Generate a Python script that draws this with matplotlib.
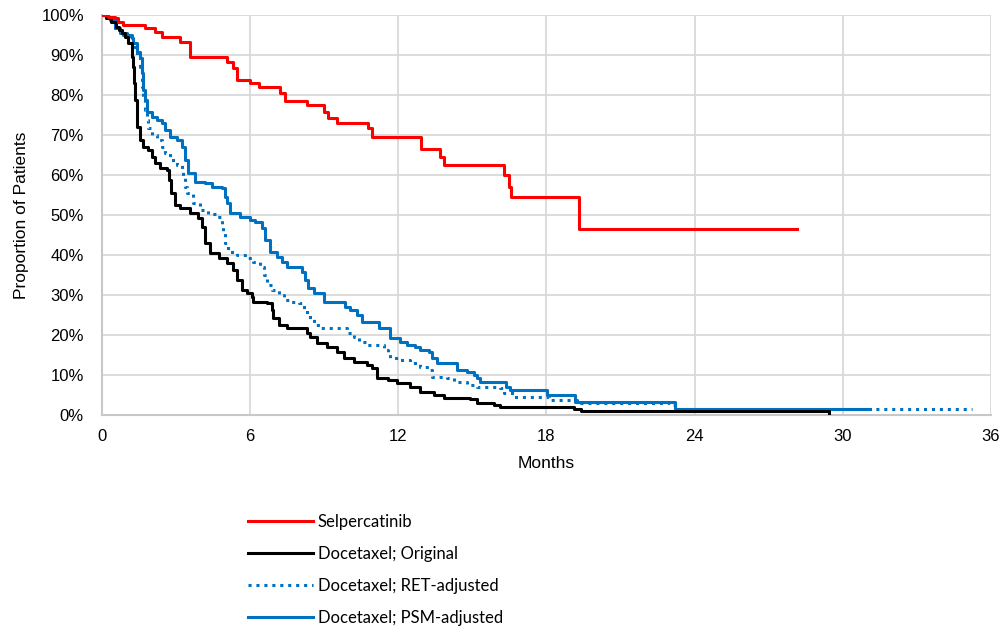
import matplotlib
matplotlib.use("Agg")
import matplotlib.pyplot as plt
from matplotlib.ticker import FuncFormatter

# ---- data (months, % of patients) ----
selp_t = [0, 0.05, 0.26, 0.53, 0.66, 0.86, 1.74, 2.15, 2.42, 3.16, 3.57, 5.05, 5.32, 5.46,
          6.0, 6.34, 7.22, 7.42, 8.3, 8.97, 9.16, 9.51, 10.79, 10.93, 12.92, 13.7, 13.86,
          16.27, 16.47, 16.57, 19.31, 28.13]
selp_s = [100, 100, 99.6, 99.2, 98.3, 97.5, 96.7, 95.8, 94.6, 93.3, 89.6, 88.3, 86.7, 83.75,
          82.9, 81.9, 80.4, 78.6, 77.5, 75.8, 74.2, 72.9, 71.7, 69.6, 66.4, 64.6, 62.5,
          60.0, 57.1, 54.4, 46.4, 46.4]

orig_t = [0, 0.15, 0.35, 0.55, 0.7, 0.8, 0.93, 1.07, 1.2, 1.27, 1.31, 1.34, 1.4, 1.54, 1.68,
          1.88, 2.01, 2.15, 2.35, 2.62, 2.72, 2.78, 2.96, 3.16, 3.57, 3.9, 4.04, 4.17, 4.38,
          4.72, 5.05, 5.32, 5.46, 5.66, 5.87, 6.07, 6.13, 6.67, 6.88, 6.94, 7.15, 7.48, 8.3,
          8.43, 8.7, 9.11, 9.51, 9.78, 10.19, 10.73, 10.93, 11.13, 11.6, 11.95, 12.48, 12.89,
          13.43, 13.83, 14.92, 15.19, 15.86, 16.13, 19.1, 19.4, 29.45]
orig_s = [100, 99.2, 98.3, 97.1, 96.2, 95.4, 94.6, 92.9, 89.6, 87.1, 82.9, 78.75, 72.1, 68.75,
          67.1, 66.25, 64.6, 62.9, 61.7, 61.25, 58.75, 55.4, 52.5, 51.7, 50.4, 49.2, 47.1, 42.9,
          40.4, 39.2, 37.9, 36.25, 33.75, 31.25, 30.4, 29.6, 28.3, 27.9, 26.25, 24.2, 22.5,
          21.7, 20.4, 19.6, 17.9, 17.1, 15.8, 14.2, 13.3, 12.5, 11.7, 9.2, 8.75, 7.9, 7.1, 5.8,
          5.0, 4.2, 3.9, 3.1, 2.5, 2.1, 1.6, 1.1, 0]

ret_t = [0, 0.15, 0.32, 0.53, 0.73, 0.86, 1.13, 1.27, 1.4, 1.54, 1.61, 1.68, 1.74, 1.81, 1.88,
         2.01, 2.22, 2.42, 2.55, 2.76, 3.03, 3.23, 3.3, 3.36, 3.43, 3.7, 3.97, 4.31, 4.65,
         4.85, 4.92, 4.99, 5.12, 5.46, 5.8, 6.13, 6.4, 6.54, 6.67, 6.88, 7.15, 7.35, 7.62,
         7.96, 8.16, 8.3, 8.57, 8.84, 9.92, 10.19, 10.39, 10.73, 11.4, 11.6, 11.67, 12.08,
         12.48, 12.89, 13.23, 13.36, 13.97, 14.24, 14.78, 15.19, 16.13, 16.27, 16.67, 18.09,
         19.24, 23.0, 23.2, 35.25]
ret_s = [100, 99.4, 98.75, 96.7, 95.8, 95.0, 94.2, 92.1, 89.6, 87.1, 82.1, 78.75, 76.25, 73.75,
         71.7, 70.0, 68.75, 67.1, 65.4, 63.75, 62.5, 61.25, 59.6, 57.1, 55.4, 52.9, 51.25, 50.2,
         49.4, 47.5, 45.4, 42.9, 40.8, 40.0, 39.2, 38.3, 37.1, 35.0, 32.5, 31.25, 30.0, 28.75,
         28.3, 27.9, 26.25, 24.4, 22.5, 21.7, 20.4, 19.6, 18.3, 17.5, 16.25, 15.4, 14.2, 13.75,
         12.9, 12.1, 11.25, 9.6, 9.2, 8.3, 7.5, 7.1, 6.7, 5.4, 4.6, 3.75, 2.9, 2.5, 1.4, 1.4]

psm_t = [0, 0.15, 0.32, 0.53, 0.73, 1.0, 1.2, 1.27, 1.4, 1.54, 1.61, 1.68, 1.74, 1.84, 2.01,
         2.22, 2.42, 2.55, 2.76, 3.03, 3.23, 3.36, 3.5, 3.77, 4.17, 4.45, 4.85, 4.99, 5.05,
         5.19, 5.59, 6.0, 6.2, 6.47, 6.61, 6.81, 7.08, 7.28, 7.48, 8.09, 8.23, 8.36, 8.57,
         8.97, 9.85, 10.05, 10.32, 10.53, 11.2, 11.67, 12.08, 12.35, 12.69, 12.89, 13.23,
         13.36, 13.57, 14.38, 14.78, 15.05, 15.19, 15.32, 16.34, 16.54, 18.02, 19.17, 23.2, 31.1]
psm_s = [100, 99.4, 98.75, 96.7, 95.4, 95.0, 94.2, 92.9, 90.8, 89.2, 85.4, 81.25, 78.75, 75.8,
         74.6, 73.75, 72.9, 71.25, 69.6, 68.75, 67.1, 63.75, 60.4, 58.3, 57.9, 57.1, 56.7, 54.6,
         52.9, 50.4, 49.6, 48.75, 48.3, 46.7, 43.75, 40.8, 39.6, 38.3, 37.1, 35.8, 33.75, 31.7,
         30.4, 28.3, 27.1, 26.25, 25.0, 23.3, 21.7, 19.2, 18.3, 17.5, 17.1, 16.25, 15.8, 14.2,
         12.9, 11.25, 10.8, 10.0, 9.2, 8.3, 7.1, 6.25, 5.0, 3.3, 1.4, 1.4]

series_labels = ["Selpercatinib", "Docetaxel; Original", "Docetaxel; RET-adjusted",
                 "Docetaxel; PSM-adjusted"]
x_ticks = [0, 6, 12, 18, 24, 30, 36]
y_ticks = [0, 10, 20, 30, 40, 50, 60, 70, 80, 90, 100]

# ---- figure ----
plt.rcParams['font.family'] = ['Liberation Sans', 'DejaVu Sans']
fig = plt.figure(figsize=(10.04, 6.31), dpi=100)
ax = fig.add_axes([102 / 1004, 1 - 415 / 631, (991 - 102) / 1004, (415 - 15) / 631])

RED, BLACK, BLUE = '#FF0000', '#000000', '#0070C0'
lw = 2.2
l1, = ax.step(selp_t, selp_s, where='post', color=RED, lw=lw, zorder=5)
l2, = ax.step(orig_t, orig_s, where='post', color=BLACK, lw=lw, zorder=4)
l3, = ax.step(ret_t, ret_s, where='post', color=BLUE, lw=lw, linestyle=(0, (1, 1.6)), zorder=3)
l4, = ax.step(psm_t, psm_s, where='post', color=BLUE, lw=lw, zorder=3)

ax.set_xlim(0, 36)
ax.set_ylim(0, 100)
ax.set_xticks(x_ticks)
ax.set_yticks(y_ticks)
ax.yaxis.set_major_formatter(FuncFormatter(lambda v, p: f"{int(v)}%"))
ax.grid(True, color='#D9D9D9', lw=1.3, zorder=0)
ax.set_axisbelow(True)
for side in ['top', 'right']:
    ax.spines[side].set_visible(False)
for side in ['left', 'bottom']:
    ax.spines[side].set_color('#C8C8C8')
    ax.spines[side].set_linewidth(1.5)
ax.tick_params(axis='both', length=0, labelsize=12, colors='#000000')
ax.tick_params(axis='y', pad=13)
ax.tick_params(axis='x', pad=10)
ax.set_xlabel("Months", fontsize=12.5, labelpad=9)
ax.set_ylabel("Proportion of Patients", fontsize=12.5, labelpad=9)

fig.legend([l1, l2, l3, l4], series_labels, loc='upper left',
           bbox_to_anchor=(248 / 1004, 1 - 514 / 631), frameon=False,
           prop={'family': 'Lato', 'size': 12}, handlelength=3.9, handletextpad=0.3,
           labelspacing=0.96, borderpad=0, borderaxespad=0)

fig.savefig('out.png', dpi=100)
